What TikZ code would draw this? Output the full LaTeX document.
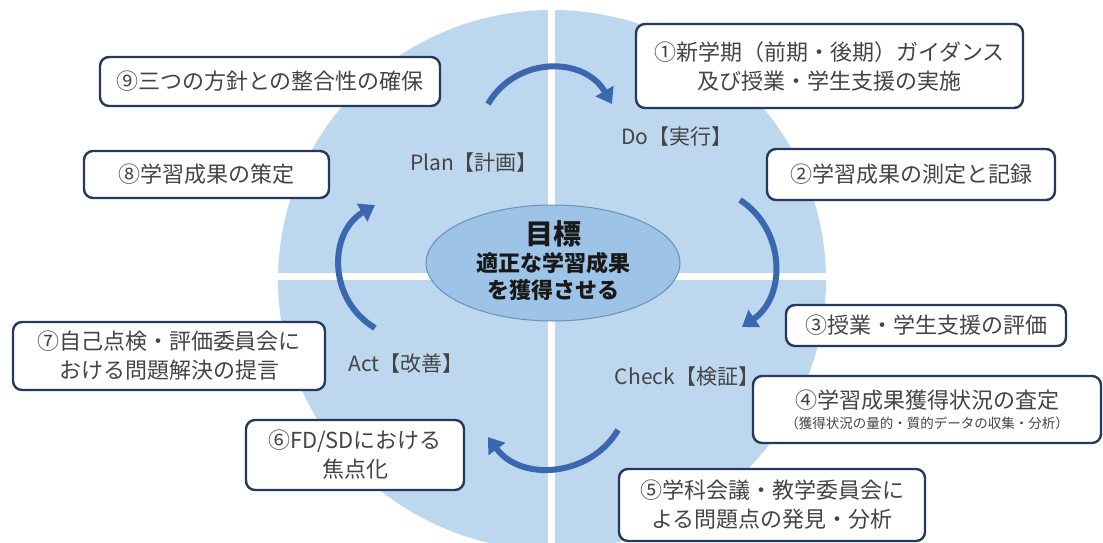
\documentclass[tikz,border=0pt]{standalone}
\usepackage{fontspec}
\setmainfont{Noto Sans CJK JP}
\usetikzlibrary{arrows.meta,shapes.geometric}
\definecolor{pie}{HTML}{BDD7EE}
\definecolor{goalfill}{HTML}{9DC3E6}
\definecolor{goaldraw}{HTML}{6B8FB9}
\definecolor{boxc}{HTML}{25395C}
\definecolor{txt}{HTML}{444444}
\definecolor{arr}{HTML}{3A67B0}
\begin{document}
\begin{tikzpicture}[x=1pt,y=-1pt,
  box/.style={draw=boxc, line width=2.4pt, rounded corners=9pt, fill=white, align=center, text=txt, inner sep=0pt, font=\fontsize{22}{29}\selectfont},
  lab/.style={text=txt, inner sep=0pt, font=\fontsize{21}{25}\selectfont},
  cyc/.style={draw=arr, line width=6pt, -{Triangle[width=20pt,length=15pt]}},
  gtxt/.style={text=black!90, inner sep=0pt, font=\bfseries\fontsize{22}{26}\selectfont},
  gap/.style={draw=white, line width=7pt}]
\useasboundingbox (0,0) rectangle (1103,543);
% background pie
\begin{scope}
\clip (0,0) rectangle (1103,543);
\fill[pie] (552,280) ellipse [x radius=274pt, y radius=270pt];
\end{scope}
\coordinate (vt) at (551,0);
\coordinate (vb) at (551,543);
\coordinate (hl) at (268,276);
\coordinate (hr) at (836,276);
\draw[gap] (vt) -- (vb);
\draw[gap] (hl) -- (hr);
% goal
\node[ellipse, draw=goaldraw, line width=1pt, fill=goalfill, minimum width=254pt, minimum height=116pt] (goal) at (553,263) {};
\node[gtxt, font=\bfseries\fontsize{28}{30}\selectfont] (g1) at (553,234) {目標};
\node[gtxt] (g2) at (553,263) {適正な学習成果};
\node[gtxt] (g3) at (553,290) {を獲得させる};
% cycle arrows
\coordinate (a1s) at (488,104); \coordinate (a1e) at (612,104);
\coordinate (a2s) at (740,200); \coordinate (a2e) at (742,327);
\coordinate (a3s) at (618,430); \coordinate (a3e) at (488,437);
\coordinate (a4s) at (375,328); \coordinate (a4e) at (375,205);
\draw[cyc] (a1s) .. controls (516,56) and (584,56) .. (a1e);
\draw[cyc] (a2s) .. controls (785,229) and (787,296) .. (a2e);
\draw[cyc] (a3s) .. controls (590,477) and (521,482) .. (a3e);
\draw[cyc] (a4s) .. controls (328,300) and (328,233) .. (a4e);
% phase labels
\node[lab] (plan) at (474,163) {Plan【計画】};
\node[lab] (do) at (677,137) {Do【実行】};
\node[lab] (act) at (406,364) {Act【改善】};
\node[lab] (check) at (687,377) {Check【検証】};
% boxes
\node[box, minimum width=387pt, minimum height=84pt] (b1) at (829.5,66) {①新学期（前期・後期）ガイダンス\\及び授業・学生支援の実施};
\node[box, minimum width=288pt, minimum height=51pt] (b2) at (911,174.5) {②学習成果の測定と記録};
\node[box, minimum width=280pt, minimum height=41pt] (b3) at (926,325.5) {③授業・学生支援の評価};
\node[box, minimum width=348pt, minimum height=67pt] (b4) at (927,409.5) {④学習成果獲得状況の査定\\[-9pt]{\fontsize{13.5}{16}\selectfont （獲得状況の量的・質的データの収集・分析）}};
\node[box, minimum width=306pt, minimum height=72pt] (b5) at (772,505) {⑤学科会議・教学委員会に\\よる問題点の発見・分析};
\node[box, minimum width=218pt, minimum height=70pt] (b6) at (355,455) {⑥FD/SDにおける\\焦点化};
\node[box, minimum width=312pt, minimum height=68pt] (b7) at (169,356) {⑦自己点検・評価委員会に\\おける問題解決の提言};
\node[box, minimum width=245pt, minimum height=47pt] (b8) at (206.5,174.5) {⑧学習成果の策定};
\node[box, minimum width=340pt, minimum height=49pt] (b9) at (270,81.5) {⑨三つの方針との整合性の確保};
\end{tikzpicture}
\end{document}
